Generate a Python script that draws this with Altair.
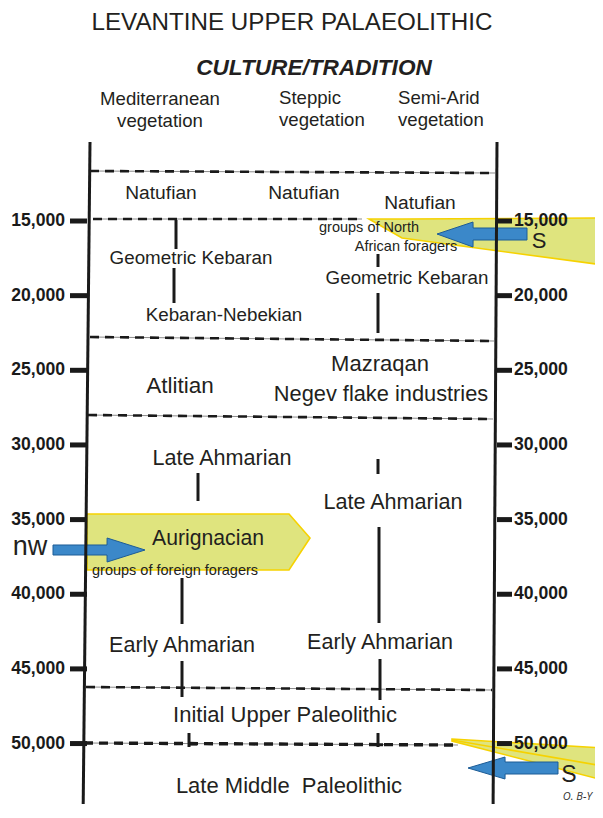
import altair as alt
import pandas as pd

FONT = "Liberation Sans"
W, H = 587, 796
YDOM = [733, 54049]
XDOM = [8, 595]

# ---- data ----
tick_ages = [15000, 20000, 25000, 30000, 35000, 40000, 45000, 50000]
tick_labels = ["15,000", "20,000", "25,000", "30,000", "35,000", "40,000", "45,000", "50,000"]

# dashed period boundaries (age at left end, age at right end)
bnd_x0 = [90, 93, 90, 88, 86, 84]
bnd_x1 = [495, 362, 494, 493, 492, 458]
bnd_a0 = [11651, 14866, 22770, 27994, 46213, 49964]
bnd_a1 = [11785, 14866, 23038, 28262, 46414, 50098]
bnd_w = [2.6, 2.6, 2.6, 2.6, 2.6, 3.4]

# continuity connectors within a column
con_x = [176, 174, 378, 378, 198, 378, 379, 182, 182, 380, 189, 378]
con_a0 = [14933, 18148, 17210, 19823, 31879, 30941, 35496, 38912, 44471, 44337, 49295, 49295]
con_a1 = [16875, 20492, 18081, 22502, 33754, 31946, 41926, 41993, 46882, 47083, 50232, 50232]

# small feet where connectors meet the 50,000 boundary
foot_x0 = [188, 377]
foot_x1 = [197, 383]
foot_age = [50030, 50080]

# culture / tradition labels
cult_names = ["Natufian", "Natufian", "Natufian", "Geometric Kebaran", "Kebaran-Nebekian",
              "Geometric Kebaran", "Mazraqan", "Negev flake industries", "Atlitian",
              "Late Ahmarian", "Late Ahmarian", "Aurignacian", "Early Ahmarian", "Early Ahmarian",
              "Initial Upper Paleolithic", "Late Middle\u00a0 Paleolithic"]
cult_x = [161, 304, 420, 191, 224, 407, 380, 381, 180, 222, 393, 208, 182, 380, 285, 289]
cult_age = [13125, 13125, 13794, 17478, 21296, 18818, 24578, 26588, 26052,
            30941, 33888, 36299, 43466, 43265, 48088, 52843]
cult_size = [19.2, 19.2, 19.2, 18.8, 18.8, 18.8, 22, 21.8, 22.5, 21.6, 21.6, 21.2, 21.5, 21.5,
             22, 22]

note_names = ["groups of North", "African foragers", "groups of foreign foragers"]
note_x = [369, 406, 175]
note_age = [15469, 16741, 38443]

dir_names = ["S", "S", "nw"]
dir_x = [539, 569, 30]
dir_age = [16340, 52107, 36835]
dir_size = [22, 23, 27]

# yellow bands (foreign groups) : shape id, x, age top, age bottom
band_id = ["north", "north", "north", "aur", "aur", "aur", "south", "south"]
band_x = [369, 402, 603, 87, 289, 310, 452, 603]
band_top = [14866, 14866, 14799, 34625, 34625, 36233, 49696, 50299]
band_bot = [14866, 16139, 17947, 38376, 38376, 36233, 49830, 52443]

# migration arrows
arr_id = ["a1"] * 4 + ["a2"] * 4 + ["a3"] * 4
arr_x = [437, 473, 473.1, 527, 53, 107, 107.1, 145, 468, 505, 505.1, 558]
arr_top = [15871, 15067, 15469, 15469, 36701, 36701, 36233, 37036, 51638, 50901, 51236, 51236]
arr_bot = [15871, 16741, 16273, 16273, 37371, 37371, 37840, 37036, 51638, 52375, 52040, 52040]

# heading block (layout in pixels)
head_text = ["LEVANTINE UPPER PALAEOLITHIC", "CULTURE/TRADITION",
             "Mediterranean", "vegetation", "Steppic", "vegetation", "Semi-Arid", "vegetation"]

# ---- helpers ----
xs = alt.Scale(domain=XDOM, nice=False, zero=False)
ys = alt.Scale(domain=YDOM, nice=False, zero=False, reverse=True)


def X(f="x"):
    return alt.X(f, type="quantitative", scale=xs, axis=None)


def Y(f="a"):
    return alt.Y(f, type="quantitative", scale=ys, axis=None)


band_df = pd.DataFrame({"id": band_id, "x": band_x, "a": band_top, "a2": band_bot})
bands = alt.Chart(band_df).mark_area(color="#dfe47e", stroke="#f6d200", strokeWidth=1.6,
                                     opacity=1).encode(
    x=X(), y=Y(), y2="a2", detail="id:N")

inner_df = pd.DataFrame({"x": [452], "x2": [603], "a": [49763], "a2": [51505]})
inner = alt.Chart(inner_df).mark_rule(color="#f6d200", strokeWidth=1.6).encode(
    x=X(), x2="x2", y=Y(), y2="a2")

bnd_df = pd.DataFrame({"x": bnd_x0, "x2": bnd_x1, "a": bnd_a0, "a2": bnd_a1, "w": bnd_w})
bnd_gray = alt.Chart(bnd_df).mark_rule(color="#8a8a8a", strokeWidth=1).encode(
    x=X(), x2="x2", y=Y(), y2="a2")
bnd_dash = alt.Chart(bnd_df).mark_rule(color="#1a1a1a", strokeDash=[9, 6]).encode(
    x=X(), x2="x2", y=Y(), y2="a2",
    strokeWidth=alt.StrokeWidth("w:Q", scale=None, legend=None))

frame_df = pd.DataFrame({"x": [90, 497], "x2": [83.2, 493.1], "a": [9709, 9709],
                         "a2": [54049, 54049]})
frame = alt.Chart(frame_df).mark_rule(color="#1a1a1a", strokeWidth=3).encode(
    x=X(), x2="x2", y=Y(), y2="a2")

con_df = pd.DataFrame({"x": con_x, "a": con_a0, "a2": con_a1})
cons = alt.Chart(con_df).mark_rule(color="#1a1a1a", strokeWidth=3).encode(
    x=X(), y=Y(), y2="a2")

foot_df = pd.DataFrame({"x": foot_x0, "x2": foot_x1, "a": foot_age})
feet = alt.Chart(foot_df).mark_rule(color="#1a1a1a", strokeWidth=3).encode(
    x=X(), x2="x2", y=Y())

tick_df = pd.DataFrame({"a": tick_ages, "lab": tick_labels,
                        "lx": 70, "lx2": 87, "rx": 497, "rx2": 512, "ltx": 65, "rtx": 514})
lt = alt.Chart(tick_df).mark_rule(color="#1a1a1a", strokeWidth=5).encode(
    x=X("lx"), x2="lx2", y=Y())
rt = alt.Chart(tick_df).mark_rule(color="#1a1a1a", strokeWidth=5).encode(
    x=X("rx"), x2="rx2", y=Y())
ll = alt.Chart(tick_df).mark_text(font=FONT, fontWeight="bold", fontSize=17.6, align="right",
                                  baseline="middle", color="#1a1a1a").encode(
    x=X("ltx"), y=Y(), text="lab:N")
rl = alt.Chart(tick_df).mark_text(font=FONT, fontWeight="bold", fontSize=17.6, align="left",
                                  baseline="middle", color="#1a1a1a").encode(
    x=X("rtx"), y=Y(), text="lab:N")

arr_df = pd.DataFrame({"id": arr_id, "x": arr_x, "a": arr_top, "a2": arr_bot})
arrows = alt.Chart(arr_df).mark_area(color="#3b88c9", stroke="#1d5c96", strokeWidth=1,
                                     opacity=1).encode(
    x=X(), y=Y(), y2="a2", detail="id:N")

cult_df = pd.DataFrame({"name": cult_names, "x": cult_x, "a": cult_age, "s": cult_size})
cult = alt.Chart(cult_df).mark_text(font=FONT, color="#231f20", baseline="middle").encode(
    x=X(), y=Y(), text="name:N", size=alt.Size("s:Q", scale=None, legend=None))

note_df = pd.DataFrame({"name": note_names, "x": note_x, "a": note_age})
notes = alt.Chart(note_df).mark_text(font=FONT, color="#231f20", fontSize=14.5,
                                     baseline="middle").encode(
    x=X(), y=Y(), text="name:N")

dir_df = pd.DataFrame({"name": dir_names, "x": dir_x, "a": dir_age, "s": dir_size})
dirs = alt.Chart(dir_df).mark_text(font=FONT, color="#231f20", baseline="middle").encode(
    x=X(), y=Y(), text="name:N", size=alt.Size("s:Q", scale=None, legend=None))

head_df = pd.DataFrame({
    "t": head_text,
    "px": [284, 306, 152, 152, 271, 271, 390, 390],
    "py": [15, 60, 91, 113, 90, 112, 90, 112],
})
title_l = alt.Chart(head_df.iloc[[0]]).mark_text(
    font=FONT, fontSize=24.2, align="center", baseline="middle", color="#231f20").encode(
    x=alt.X("px:Q", scale=None), y=alt.Y("py:Q", scale=None), text="t:N")
sub_l = alt.Chart(head_df.iloc[[1]]).mark_text(
    font=FONT, fontSize=22.6, fontWeight="bold", fontStyle="italic", align="center",
    baseline="middle", color="#231f20").encode(
    x=alt.X("px:Q", scale=None), y=alt.Y("py:Q", scale=None), text="t:N")
med_l = alt.Chart(head_df.iloc[[2, 3]]).mark_text(
    font=FONT, fontSize=18.6, align="center", baseline="middle", color="#231f20").encode(
    x=alt.X("px:Q", scale=None), y=alt.Y("py:Q", scale=None), text="t:N")
col_l = alt.Chart(head_df.iloc[4:]).mark_text(
    font=FONT, fontSize=18.6, align="left", baseline="middle", color="#231f20").encode(
    x=alt.X("px:Q", scale=None), y=alt.Y("py:Q", scale=None), text="t:N")

sig_df = pd.DataFrame({"t": ["O. B-Y"], "px": [584], "py": [789]})
sig = alt.Chart(sig_df).mark_text(
    font="Open Sans", fontStyle="italic", color="#333333", fontSize=11, align="right",
    baseline="middle").encode(
    x=alt.X("px:Q", scale=None), y=alt.Y("py:Q", scale=None), text="t:N")

chart = alt.layer(
    bands, inner, bnd_gray, bnd_dash, cons, feet, lt, rt, arrows, frame, ll, rl,
    cult, notes, dirs
).properties(
    width=W, height=H
)

full = alt.layer(chart, title_l, sub_l, med_l, col_l, sig).resolve_scale(
    x="independent", y="independent"
).properties(
    padding=0, autosize=alt.AutoSizeParams(type="none"), background="white"
).configure_view(stroke=None)

full.save("out.html", embed_options={"renderer": "svg", "actions": False})
